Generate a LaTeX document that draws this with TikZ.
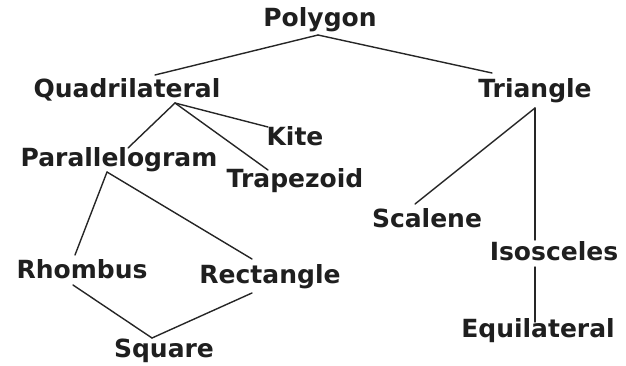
\documentclass[tikz,border=0pt]{standalone}
\usepackage{fontspec}
\setmainfont{DejaVu Sans}
\usetikzlibrary{calc}
\begin{document}
\begin{tikzpicture}[x=1pt,y=-1pt,
  lbl/.style={anchor=base,inner sep=0pt,font=\fontsize{25}{30}\selectfont\bfseries,text=black!88},
  conn/.style={line width=1.4pt,draw=black!85,line cap=round}]
\useasboundingbox (0,0) rectangle (626,366);
\node[lbl] (p)  at (320,27)  {Polygon};
\node[lbl] (q)  at (127,98)  {Quadrilateral};
\node[lbl] (t)  at (535,98)  {Triangle};
\node[lbl] (k)  at (295,146) {Kite};
\node[lbl] (pa) at (119,167) {Parallelogram};
\node[lbl] (tr) at (295,188) {Trapezoid};
\node[lbl] (sc) at (427,227) {Scalene};
\node[lbl] (is) at (554,260) {Isosceles};
\node[lbl] (eq) at (538,337) {Equilateral};
\node[lbl] (rh) at (82,278)  {Rhombus};
\node[lbl] (re) at (270,283) {Rectangle};
\node[lbl] (sq) at (164,357) {Square};
\draw[conn] ($(p.base)+(-2,8)$) -- ($(q.base)+(28,-23)$);
\draw[conn] ($(p.base)+(-2,8)$) -- ($(t.base)+(-43,-25)$);
\draw[conn] ($(q.base)+(48,5)$) -- ($(k.base)+(-27,-19)$);
\draw[conn] ($(q.base)+(48,5)$) -- ($(tr.base)+(-27,-18)$);
\draw[conn] ($(q.base)+(48,5)$) -- ($(pa.base)+(9,-19)$);
\draw[conn] ($(pa.base)+(-12,5)$) -- ($(rh.base)+(-7,-23)$);
\draw[conn] ($(pa.base)+(-12,5)$) -- ($(re.base)+(-18,-24)$);
\draw[conn] ($(rh.base)+(-9,7)$) -- ($(sq.base)+(-12,-19)$);
\draw[conn] ($(re.base)+(-18,10)$) -- ($(sq.base)+(-12,-19)$);
\draw[conn] ($(t.base)+(0,10)$) -- ($(sc.base)+(-12,-23)$);
\draw[conn] ($(t.base)+(0,10)$) -- ($(is.base)+(-19,-20)$);
\draw[conn] ($(is.base)+(-19,7)$) -- ($(eq.base)+(-3,-15)$);
\end{tikzpicture}
\end{document}
